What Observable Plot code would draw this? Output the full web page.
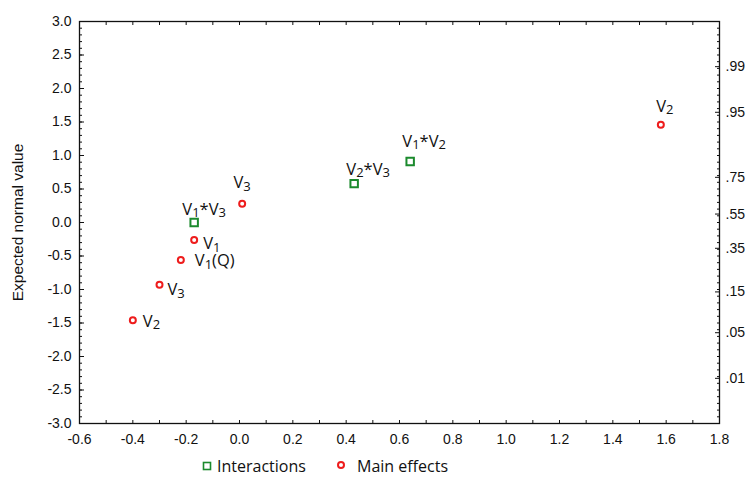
<!DOCTYPE html>
<html><head><meta charset="utf-8">
<script src="https://cdn.jsdelivr.net/npm/d3@7"></script>
<script src="https://cdn.jsdelivr.net/npm/@observablehq/plot@0.6"></script>
<style>
body{margin:0;background:#fff;}
#chart{position:relative;width:748px;height:479px;overflow:hidden;}
#legend{position:absolute;left:0;top:455px;width:748px;height:24px;font:16px "Open Sans",sans-serif;color:#111;}
#legend span{position:absolute;top:0;line-height:22px;}
</style></head><body>
<div id="chart"><div id="legend"></div></div>
<script>
// ---- data ----
const effectNames = ["V_2","V_3","V_1(Q)","V_1","V_1*V_3","V_3","V_2*V_3","V_1*V_2","V_2"];
const effectTypes = ["Main effects","Main effects","Main effects","Main effects","Interactions","Main effects","Interactions","Interactions","Main effects"];
const effectValues = [-0.40,-0.30,-0.22,-0.17,-0.17,0.01,0.43,0.64,1.58];
const expectedNormal = [-1.46,-0.93,-0.56,-0.26,0.00,0.28,0.58,0.91,1.46];
const xTicks = [-0.6,-0.4,-0.2,0.0,0.2,0.4,0.6,0.8,1.0,1.2,1.4,1.6,1.8];
const yTicks = [-3.0,-2.5,-2.0,-1.5,-1.0,-0.5,0.0,0.5,1.0,1.5,2.0,2.5,3.0];
const probLabels = [".01",".05",".15",".35",".55",".75",".95",".99"];
const probZ = [-2.326,-1.645,-1.036,-0.385,0.126,0.674,1.645,2.326];
const legendItems = ["Interactions","Main effects"];

// ---- styling ----
const colors = {"Interactions":"#1b8a2d","Main effects":"#ee1c1c"};
const symbols = {"Interactions":"square","Main effects":"circle"};
// label placement (pixel offsets from each point)
const labelPlace = [
  {dx:10,dy:1,anchor:"start"},
  {dx:8,dy:5,anchor:"start"},
  {dx:14,dy:1,anchor:"start"},
  {dx:9,dy:4,anchor:"start"},
  {dx:10,dy:-13,anchor:"middle"},
  {dx:0,dy:-21,anchor:"middle"},
  {dx:14,dy:-14,anchor:"middle"},
  {dx:14,dy:-20,anchor:"middle"},
  {dx:4,dy:-18,anchor:"middle"}
];

const data = effectNames.map((n,i)=>({name:n,type:effectTypes[i],x:effectValues[i],y:expectedNormal[i]}));
const minorX = d3.range(-6,19).map(k=>k/10);
const minorY = d3.range(-30,31).map(k=>k/10);
const fmt = d => (+d).toFixed(1);
const FONT = "'Liberation Sans', Arial, sans-serif";

const plot = Plot.plot({
  width:748, height:452,
  marginLeft:79, marginRight:29, marginTop:21, marginBottom:29,
  style:{fontFamily:FONT, fontSize:"14px", color:"#111", background:"#fff"},
  x:{domain:[-0.6,1.8]},
  y:{domain:[-3,3]},
  marks:[
    Plot.axisX({anchor:"bottom", ticks:minorX, tickSize:-3, text:null, label:null}),
    Plot.axisX({anchor:"top", ticks:minorX, tickSize:-3, text:null, label:null}),
    Plot.axisX({anchor:"bottom", ticks:xTicks, tickSize:0, tickPadding:11, tickFormat:fmt, label:null,
      fontSize:14, fontFamily:FONT}),
    Plot.axisY({anchor:"left", ticks:minorY, tickSize:-3, text:null, label:null}),
    Plot.axisY({anchor:"left", ticks:yTicks, tickSize:-5, text:null, label:null}),
    Plot.axisY({anchor:"left", ticks:yTicks, tickSize:0, tickPadding:8, tickFormat:fmt,
      fontSize:14, fontFamily:FONT,
      label:"Expected normal value", labelAnchor:"center", labelArrow:"none", labelOffset:68}),
    Plot.axisY({anchor:"right", ticks:minorY, tickSize:-3, text:null, label:null}),
    Plot.axisY({anchor:"right", ticks:probZ, tickSize:-5, text:null, label:null}),
    Plot.axisY({anchor:"right", ticks:probZ, tickSize:0, tickPadding:6, fontSize:14, fontFamily:FONT,
      tickFormat:d=>probLabels[probZ.indexOf(d)], label:null}),
    Plot.frame({stroke:"#111", strokeWidth:1.3}),
    Plot.dot(data,{x:"x",y:"y",symbol:d=>symbols[d.type],stroke:d=>colors[d.type],
      r:d=>d.type==="Interactions"?4.2:3, fill:"white", strokeWidth:2}),
    ...data.map((d,i)=>Plot.text([d],{x:"x",y:"y",text:"name",dx:labelPlace[i].dx,dy:labelPlace[i].dy,
      textAnchor:labelPlace[i].anchor, fontFamily:"'Open Sans', sans-serif", fontSize:16.5, fill:"#111",
      className:"effect-label"}))
  ],
  symbol:{type:"identity"}, color:{type:"identity"}, r:{type:"identity"}
});

// subscripts
const svgns = "http://www.w3.org/2000/svg";
d3.select(plot).selectAll(".effect-label text").each(function(){
  const s = this.textContent;
  this.textContent = "";
  const parts = s.split(/_(\d)/);
  parts.forEach((p,i)=>{
    if(p==="") return;
    const t = document.createElementNS(svgns,"tspan");
    t.textContent = p;
    if(i%2===1){ t.setAttribute("dy","2.5"); t.setAttribute("font-size","13"); }
    else if(i>0){ t.setAttribute("dy","-2.5"); }
    this.appendChild(t);
  });
});
// axis label font size
d3.select(plot).selectAll("[aria-label='y-axis label'] text, [aria-label='y-axis label']").attr("font-size",15.5);

const chart = document.getElementById("chart");
chart.insertBefore(plot, chart.firstChild);

// legend
const legend = document.getElementById("legend");
const legendX = [{sym:201,txt:217},{sym:335,txt:357}];
legendItems.forEach((name,i)=>{
  const sv = document.createElementNS(svgns,"svg");
  sv.setAttribute("width",12); sv.setAttribute("height",12);
  sv.style.position="absolute"; sv.style.left=legendX[i].sym+"px"; sv.style.top="5px";
  const g = d3.select(sv);
  if(symbols[name]==="square") g.append("rect").attr("x",2.5).attr("y",2.5).attr("width",7).attr("height",7)
      .attr("fill","white").attr("stroke",colors[name]).attr("stroke-width",1.6);
  else g.append("circle").attr("cx",6).attr("cy",5).attr("r",3).attr("fill","white")
      .attr("stroke",colors[name]).attr("stroke-width",2);
  legend.appendChild(sv);
  const sp = document.createElement("span");
  sp.textContent = name; sp.style.left = legendX[i].txt+"px";
  legend.appendChild(sp);
});
</script>
</body></html>
